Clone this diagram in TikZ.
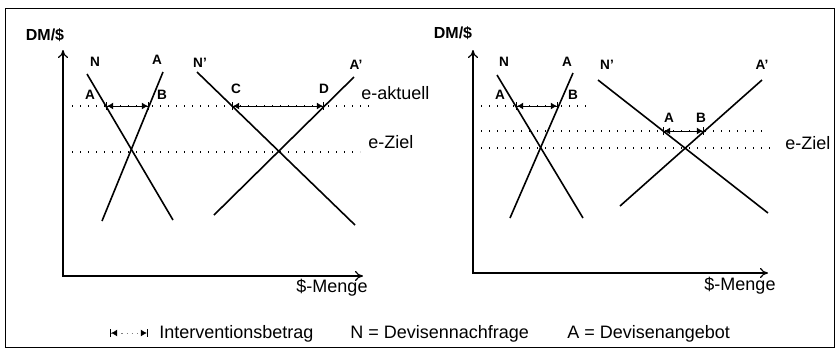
\documentclass[tikz,border=0pt]{standalone}
\usepackage{fontspec}
\setmainfont{Liberation Sans}
\usetikzlibrary{arrows.meta}

\begin{document}
\begin{tikzpicture}[x=0.5pt, y=-0.5pt,
                   curve/.style={line width=0.8pt},
                   axis/.style={line width=0.6pt, {To[length=4pt,width=5pt]}-{To[length=4pt,width=5pt]}},
                   guide/.style={line width=0.6pt, dash pattern=on 0.6pt off 3.4pt},
                   interv/.style={line width=0.4pt,
                                  {Bar[width=4pt,line width=0.6pt,color=black]Latex[length=3pt,width=3.5pt,color=black]}-{Latex[length=3pt,width=3.5pt,color=black]Bar[width=4pt,line width=0.6pt,color=black]}},
                   lbl/.style={font=\fontsize{6.8}{7}\selectfont\bfseries, inner sep=0pt},
                   ylbl/.style={font=\fontsize{8}{9}\selectfont\bfseries, inner sep=0pt},
                   txt/.style={font=\fontsize{9}{10}\selectfont, inner sep=0pt}]
    \useasboundingbox (0,0) rectangle (836,350);
    \draw[line width=0.5pt] (5,8) rectangle (834,347);

    % left panel
    \node[ylbl] (dmL) at (45,35) {DM/\$};
    \coordinate (yL) at (63,50);
    \coordinate (xL) at (363,276);
    \draw[axis] (yL) |- (xL);
    \node[txt, anchor=north] (mengeL) at (332,279) {\$-Menge};
    \coordinate (nL1) at (87,74);    \coordinate (nL2) at (173,220);
    \coordinate (aL1) at (163,72);   \coordinate (aL2) at (102,221);
    \coordinate (npL1) at (197,72);  \coordinate (npL2) at (355,225);
    \coordinate (apL1) at (354,77);  \coordinate (apL2) at (214,215);
    \draw[curve] (nL1) -- (nL2);
    \draw[curve] (aL1) -- (aL2);
    \draw[curve] (npL1) -- (npL2);
    \draw[curve] (apL1) -- (apL2);
    \node[lbl] (labNL) at (95,62) {N};
    \node[lbl] (labAL) at (157,60) {A};
    \node[lbl] (labNpL) at (200,63) {N'};
    \node[lbl] (labApL) at (356,65) {A'};
    \node[lbl] (ptAL) at (90,95) {A};
    \node[lbl] (ptBL) at (162,95) {B};
    \node[lbl] (ptCL) at (236,89) {C};
    \node[lbl] (ptDL) at (324,89) {D};
    \coordinate (gL1a) at (72,106);  \coordinate (gL1b) at (370,106);
    \coordinate (gL2a) at (72,152);  \coordinate (gL2b) at (360,152);
    \draw[guide] (gL1a) -- (gL1b);
    \draw[guide] (gL2a) -- (gL2b);
    \node[txt, anchor=west] (aktuell) at (361,93) {e-aktuell};
    \node[txt, anchor=west] (zielL) at (368,142) {e-Ziel};
    \coordinate (abL1) at (106,106); \coordinate (abL2) at (149,106);
    \coordinate (cdL1) at (232,106); \coordinate (cdL2) at (324,106);
    \draw[interv] (abL1) -- (abL2);
    \draw[interv] (cdL1) -- (cdL2);

    % right panel
    \node[ylbl] (dmR) at (453,33) {DM/\$};
    \coordinate (yR) at (473,50);
    \coordinate (xR) at (768,273);
    \draw[axis] (yR) |- (xR);
    \node[txt, anchor=north] (mengeR) at (740,277) {\$-Menge};
    \coordinate (nR1) at (497,75);   \coordinate (nR2) at (583,218);
    \coordinate (aR1) at (573,73);   \coordinate (aR2) at (510,218);
    \coordinate (npR1) at (598,80);  \coordinate (npR2) at (768,213);
    \coordinate (apR1) at (762,80);  \coordinate (apR2) at (620,206);
    \draw[curve] (nR1) -- (nR2);
    \draw[curve] (aR1) -- (aR2);
    \draw[curve] (npR1) -- (npR2);
    \draw[curve] (apR1) -- (apR2);
    \node[lbl] (labNR) at (504,62) {N};
    \node[lbl] (labAR) at (567,62) {A};
    \node[lbl] (labNpR) at (607,65) {N'};
    \node[lbl] (labApR) at (762,65) {A'};
    \node[lbl] (ptAR) at (500,95) {A};
    \node[lbl] (ptBR) at (573,95) {B};
    \node[lbl] (ptAR2) at (669,118) {A};
    \node[lbl] (ptBR2) at (701,118) {B};
    \coordinate (gR1a) at (473,106); \coordinate (gR1b) at (590,106);
    \coordinate (gR2a) at (473,131); \coordinate (gR2b) at (763,131);
    \coordinate (gR3a) at (473,148); \coordinate (gR3b) at (773,148);
    \draw[guide] (gR1a) -- (gR1b);
    \draw[guide] (gR2a) -- (gR2b);
    \draw[guide] (gR3a) -- (gR3b);
    \node[txt, anchor=west] (zielR) at (785,143) {e-Ziel};
    \coordinate (abR1) at (516,106); \coordinate (abR2) at (558,106);
    \coordinate (abR3) at (663,131); \coordinate (abR4) at (704,131);
    \draw[interv] (abR1) -- (abR2);
    \draw[interv] (abR3) -- (abR4);

    % legend
    \coordinate (leg1) at (110,333); \coordinate (leg2) at (148,333);
    \draw[interv, gray, dash pattern=on 0.6pt off 2pt] (leg1) -- (leg2);
    \node[txt, anchor=base west] (legI) at (159,338) {Interventionsbetrag};
    \node[txt, anchor=base west] (legN) at (350,338) {N = Devisennachfrage};
    \node[txt, anchor=base west] (legA) at (567,338) {A = Devisenangebot};
\end{tikzpicture}
\end{document}
